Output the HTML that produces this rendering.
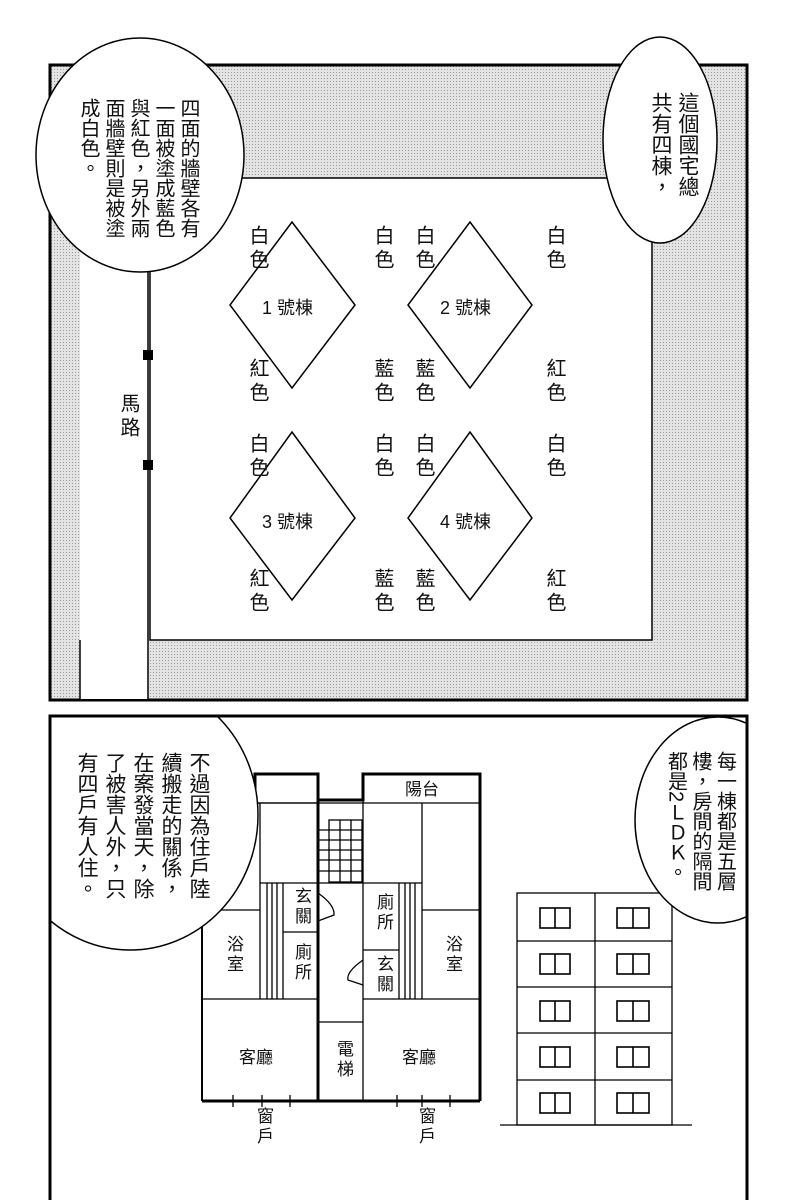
<!DOCTYPE html>
<html><head><meta charset="utf-8"><style>
body{margin:0;width:804px;height:1200px;background:#fff;position:relative;overflow:hidden;font-family:"Liberation Sans","Noto Sans CJK TC",sans-serif;}
svg{position:absolute;left:0;top:0}
.v{position:absolute;writing-mode:vertical-rl;font-family:"Liberation Sans","Noto Sans CJK TC",sans-serif;color:#111;white-space:nowrap}
.l{font-size:20px;letter-spacing:4px}
.p{font-size:17px;letter-spacing:3px}
.t{position:absolute;font-size:18px;color:#111;white-space:nowrap}
</style></head><body>
<svg width="804" height="1200" viewBox="0 0 804 1200">
<defs><pattern id="g" width="3" height="3" patternUnits="userSpaceOnUse"><rect width="3" height="3" fill="#e4e4e4"/><rect width="1" height="1" fill="#9a9a9a"/></pattern>
<clipPath id="bp"><rect x="51" y="717" width="695" height="490"/></clipPath></defs>
<!-- top panel -->
<rect x="50" y="65" width="697" height="635" fill="url(#g)" stroke="#000" stroke-width="3"/>
<rect x="150" y="178" width="502" height="462" fill="#fff" stroke="#000" stroke-width="1.5"/>
<rect x="80" y="180" width="68" height="519" fill="#fff"/>
<line x1="148" y1="270" x2="148" y2="699" stroke="#000" stroke-width="1.5"/>
<line x1="80" y1="640" x2="80" y2="699" stroke="#000" stroke-width="1.5"/>
<rect x="143" y="350" width="10" height="10" fill="#000"/>
<rect x="143" y="460" width="10" height="10" fill="#000"/>
<g fill="none" stroke="#000" stroke-width="1.5">
<polygon points="292,222 355,305 292,388 230,305"/>
<polygon points="470,222 532,305 470,388 408,305"/>
<polygon points="292,432 355,518 292,600 230,518"/>
<polygon points="470,432 532,518 470,600 408,518"/>
</g>
<ellipse cx="140" cy="155" rx="104" ry="117" fill="#fff" stroke="#000" stroke-width="1.5"/>
<ellipse cx="660" cy="140" rx="57" ry="103" fill="#fff" stroke="#000" stroke-width="1.5"/>
<!-- bottom panel -->
<rect x="50" y="716" width="697" height="500" fill="#fff" stroke="#000" stroke-width="3"/>
<!-- floor plan -->
<g fill="none" stroke="#000" stroke-width="1.3">
<polyline points="202,1101 202,803 318,803" />
<polyline points="255,803 255,774 318,774 318,1101" stroke-width="3"/>
<polyline points="318,800 363,800 363,774 480,774 480,1101" stroke-width="3"/>
<line x1="202" y1="1101" x2="480" y2="1101" stroke-width="3"/>
<line x1="202" y1="1101" x2="202" y2="803" stroke-width="2"/>
<line x1="202" y1="803" x2="480" y2="803"/>
<line x1="318" y1="883" x2="363" y2="883"/>
<line x1="363" y1="800" x2="363" y2="1101"/>
<line x1="260" y1="803" x2="260" y2="999"/>
<line x1="202" y1="910" x2="260" y2="910"/>
<line x1="202" y1="999" x2="318" y2="999"/>
<line x1="260" y1="883" x2="318" y2="883"/>
<line x1="283" y1="883" x2="283" y2="999"/>
<line x1="283" y1="932" x2="318" y2="932"/>
<line x1="267" y1="883" x2="267" y2="999"/><line x1="272" y1="883" x2="272" y2="999"/><line x1="277" y1="883" x2="277" y2="999"/>
<line x1="318" y1="1022" x2="363" y2="1022"/>
<line x1="363" y1="883" x2="422" y2="883"/>
<line x1="399" y1="883" x2="399" y2="999"/>
<line x1="363" y1="950" x2="399" y2="950"/>
<line x1="405" y1="883" x2="405" y2="999"/><line x1="410" y1="883" x2="410" y2="999"/><line x1="415" y1="883" x2="415" y2="999"/>
<line x1="422" y1="803" x2="422" y2="999"/>
<line x1="422" y1="910" x2="480" y2="910"/>
<line x1="363" y1="999" x2="480" y2="999"/>
<rect x="329" y="820" width="33" height="62"/>
<line x1="319" y1="830" x2="362" y2="830"/><line x1="319" y1="840" x2="362" y2="840"/><line x1="319" y1="850" x2="362" y2="850"/><line x1="319" y1="860" x2="362" y2="860"/><line x1="319" y1="871" x2="362" y2="871"/>
<line x1="340" y1="820" x2="340" y2="882"/><line x1="351" y1="820" x2="351" y2="882"/>
<path d="M318,893 Q335,905 334,915 L318,921"/>
<path d="M363,960 Q346,972 348,980 L363,985"/>
<line x1="233" y1="1095" x2="233" y2="1107"/><line x1="262" y1="1095" x2="262" y2="1107"/><line x1="290" y1="1095" x2="290" y2="1107"/>
<line x1="397" y1="1095" x2="397" y2="1107"/><line x1="422" y1="1095" x2="422" y2="1107"/><line x1="450" y1="1095" x2="450" y2="1107"/>
<!-- building -->
<rect x="517" y="893" width="155" height="232"/>
<line x1="595" y1="893" x2="595" y2="1125"/>
<line x1="517" y1="941" x2="672" y2="941"/><line x1="517" y1="987" x2="672" y2="987"/><line x1="517" y1="1033" x2="672" y2="1033"/><line x1="517" y1="1080" x2="672" y2="1080"/>
<line x1="500" y1="1125" x2="692" y2="1125"/>
</g>
<g fill="none" stroke="#000" stroke-width="1.6">
<rect x="540" y="908" width="30" height="20"/><line x1="555" y1="908" x2="555" y2="928"/>
<rect x="617" y="908" width="32" height="20"/><line x1="633" y1="908" x2="633" y2="928"/>
<rect x="540" y="954" width="30" height="20"/><line x1="555" y1="954" x2="555" y2="974"/>
<rect x="617" y="954" width="32" height="20"/><line x1="633" y1="954" x2="633" y2="974"/>
<rect x="540" y="1001" width="30" height="20"/><line x1="555" y1="1001" x2="555" y2="1021"/>
<rect x="617" y="1001" width="32" height="20"/><line x1="633" y1="1001" x2="633" y2="1021"/>
<rect x="540" y="1047" width="30" height="20"/><line x1="555" y1="1047" x2="555" y2="1067"/>
<rect x="617" y="1047" width="32" height="20"/><line x1="633" y1="1047" x2="633" y2="1067"/>
<rect x="540" y="1093" width="30" height="20"/><line x1="555" y1="1093" x2="555" y2="1113"/>
<rect x="617" y="1093" width="32" height="20"/><line x1="633" y1="1093" x2="633" y2="1113"/>
</g>
<g clip-path="url(#bp)">
<ellipse cx="130" cy="815" rx="128" ry="135" fill="#fff" stroke="#000" stroke-width="1.5"/>
<ellipse cx="718" cy="820" rx="83" ry="103" fill="#fff" stroke="#000" stroke-width="1.5"/>
</g>
<line x1="747" y1="716" x2="747" y2="1200" stroke="#000" stroke-width="3"/>
<line x1="50" y1="716" x2="50" y2="1200" stroke="#000" stroke-width="3"/>
<line x1="50" y1="716" x2="747" y2="716" stroke="#000" stroke-width="3"/>
</svg>

<!-- top bubbles -->
<div class="v" style="left:75px;top:98px;font-size:20px;line-height:25px;">四面的牆壁各有<br>一面被塗成藍色<br>與紅色，另外兩<br>面牆壁則是被塗<br>成白色。</div>
<div class="v" style="left:647px;top:92px;font-size:21px;line-height:27px;">這個國宅總<br>共有四棟，</div>

<!-- labels top -->
<div class="v l" style="left:243px;top:225px;">白色</div>
<div class="v l" style="left:368px;top:225px;">白色</div>
<div class="v l" style="left:409px;top:225px;">白色</div>
<div class="v l" style="left:540px;top:225px;">白色</div>
<div class="v l" style="left:243px;top:358px;">紅色</div>
<div class="v l" style="left:368px;top:358px;">藍色</div>
<div class="v l" style="left:409px;top:358px;">藍色</div>
<div class="v l" style="left:540px;top:358px;">紅色</div>
<div class="v l" style="left:243px;top:433px;">白色</div>
<div class="v l" style="left:368px;top:433px;">白色</div>
<div class="v l" style="left:409px;top:433px;">白色</div>
<div class="v l" style="left:540px;top:433px;">白色</div>
<div class="v l" style="left:243px;top:568px;">紅色</div>
<div class="v l" style="left:368px;top:568px;">藍色</div>
<div class="v l" style="left:409px;top:568px;">藍色</div>
<div class="v l" style="left:540px;top:568px;">紅色</div>
<div class="t" style="left:262px;top:294px;">1 號棟</div>
<div class="t" style="left:440px;top:294px;">2 號棟</div>
<div class="t" style="left:262px;top:508px;">3 號棟</div>
<div class="t" style="left:440px;top:508px;">4 號棟</div>
<div class="v l" style="left:114px;top:393px;">馬路</div>

<!-- bottom bubbles -->
<div class="v" style="left:72px;top:752px;font-size:21px;line-height:28px;">不過因為住戶陸<br>續搬走的關係，<br>在案發當天，除<br>了被害人外，只<br>有四戶有人住。</div>
<div class="v" style="left:663px;top:751px;font-size:20px;line-height:24.5px;">每一棟都是五層<br>樓，房間的隔間<br>都是2ＬＤＫ。</div>

<!-- plan labels -->
<div class="t" style="left:405px;top:775px;font-size:17px;">陽台</div>
<div class="v p" style="left:289px;top:887px;">玄關</div>
<div class="v p" style="left:289px;top:943px;">廁所</div>
<div class="v p" style="left:221px;top:935px;">浴室</div>
<div class="v p" style="left:371px;top:893px;">廁所</div>
<div class="v p" style="left:371px;top:955px;">玄關</div>
<div class="v p" style="left:440px;top:935px;">浴室</div>
<div class="t" style="left:239px;top:1043px;font-size:17px;">客廳</div>
<div class="t" style="left:402px;top:1043px;font-size:17px;">客廳</div>
<div class="v p" style="left:331px;top:1040px;">電梯</div>
<div class="v p" style="left:251px;top:1107px;">窗戶</div>
<div class="v p" style="left:413px;top:1107px;">窗戶</div>
</body></html>
